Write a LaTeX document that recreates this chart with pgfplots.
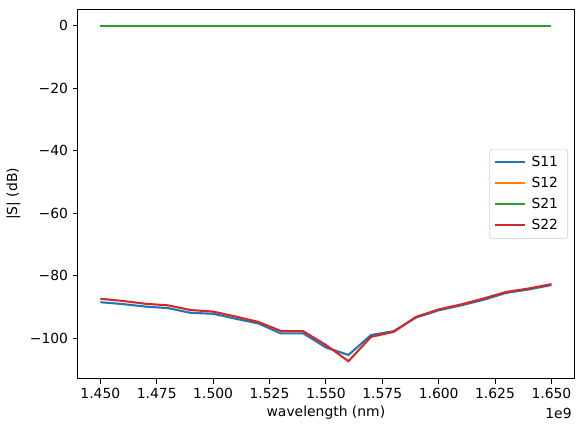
\documentclass[border=0pt]{standalone}
\usepackage{pgfplots}
\pgfplotsset{compat=1.18}
\usepackage{fontspec}
\setmainfont{DejaVu Sans}
\definecolor{cA}{RGB}{31,119,180}
\definecolor{cB}{RGB}{255,127,14}
\definecolor{cC}{RGB}{44,160,44}
\definecolor{cD}{RGB}{214,39,40}
\begin{document}
\begin{tikzpicture}
\begin{axis}[
  name=ax,
  scale only axis,
  width=357pt, height=266pt,
  xmin=1.44, xmax=1.66,
  ymin=-113, ymax=5.4,
  xtick={1.45,1.475,1.5,1.525,1.55,1.575,1.6,1.625,1.65},
  xticklabels={1.450,1.475,1.500,1.525,1.550,1.575,1.600,1.625,1.650},
  ytick={-100,-80,-60,-40,-20,0},
  yticklabels={−100,−80,−60,−40,−20,0},
  tick align=outside,
  major tick length=3.5pt,
  xtick pos=bottom, ytick pos=left,
  tick style={black, line width=0.6pt},
  axis line style={line width=0.6pt},
  ticklabel style={font=\fontsize{10}{12}\selectfont},
  xlabel={wavelength (nm)}, ylabel={|S| (dB)},
  label style={font=\fontsize{10}{12}\selectfont},
  xlabel style={yshift=2pt},
  legend style={at={(0.988,0.5)}, anchor=east, font=\fontsize{10}{12}\selectfont, draw=black!20, rounded corners=2pt, row sep=2.2pt, inner xsep=3pt, inner ysep=3pt},
  legend cell align=left,
  legend image code/.code={\draw[#1] (0pt,0pt) -- (21.6pt,0pt);},
  legend style={nodes={inner xsep=4pt}},
]
\addplot[draw=cA, line width=1.5pt] coordinates {
(1.45,-88.5) (1.46,-89.1) (1.47,-89.9) (1.48,-90.4) (1.49,-91.9) (1.50,-92.2)
(1.51,-93.8) (1.52,-95.3) (1.53,-98.5) (1.54,-98.5) (1.55,-103.0) (1.56,-105.4)
(1.57,-99.0) (1.58,-97.8) (1.59,-93.4) (1.60,-91.1) (1.61,-89.5) (1.62,-87.7)
(1.63,-85.5) (1.64,-84.4) (1.65,-83.0)};
\addlegendentry{S11}
\addplot[draw=cB, line width=1.5pt] coordinates {
(1.45,0) (1.46,0) (1.47,0) (1.48,0) (1.49,0) (1.50,0) (1.51,0) (1.52,0) (1.53,0) (1.54,0) (1.55,0)
(1.56,0) (1.57,0) (1.58,0) (1.59,0) (1.60,0) (1.61,0) (1.62,0) (1.63,0) (1.64,0) (1.65,0)};
\addlegendentry{S12}
\addplot[draw=cC, line width=1.5pt] coordinates {
(1.45,0) (1.46,0) (1.47,0) (1.48,0) (1.49,0) (1.50,0) (1.51,0) (1.52,0) (1.53,0) (1.54,0) (1.55,0)
(1.56,0) (1.57,0) (1.58,0) (1.59,0) (1.60,0) (1.61,0) (1.62,0) (1.63,0) (1.64,0) (1.65,0)};
\addlegendentry{S21}
\addplot[draw=cD, line width=1.5pt] coordinates {
(1.45,-87.4) (1.46,-88.1) (1.47,-89.0) (1.48,-89.5) (1.49,-91.0) (1.50,-91.5)
(1.51,-93.1) (1.52,-94.8) (1.53,-97.7) (1.54,-97.8) (1.55,-102.2) (1.56,-107.4)
(1.57,-99.6) (1.58,-98.0) (1.59,-93.2) (1.60,-90.8) (1.61,-89.2) (1.62,-87.3)
(1.63,-85.2) (1.64,-84.1) (1.65,-82.7)};
\addlegendentry{S22}
\end{axis}
\node[anchor=north east, font=\fontsize{10}{12}\selectfont, inner sep=0pt] at ([xshift=-1.5pt,yshift=-21pt]ax.south east) {1e9};
\pgfresetboundingbox
\path ([xshift=-56pt,yshift=-38.2pt]ax.south west) rectangle ([xshift=6.5pt,yshift=6.5pt]ax.north east);
\end{tikzpicture}
\end{document}
